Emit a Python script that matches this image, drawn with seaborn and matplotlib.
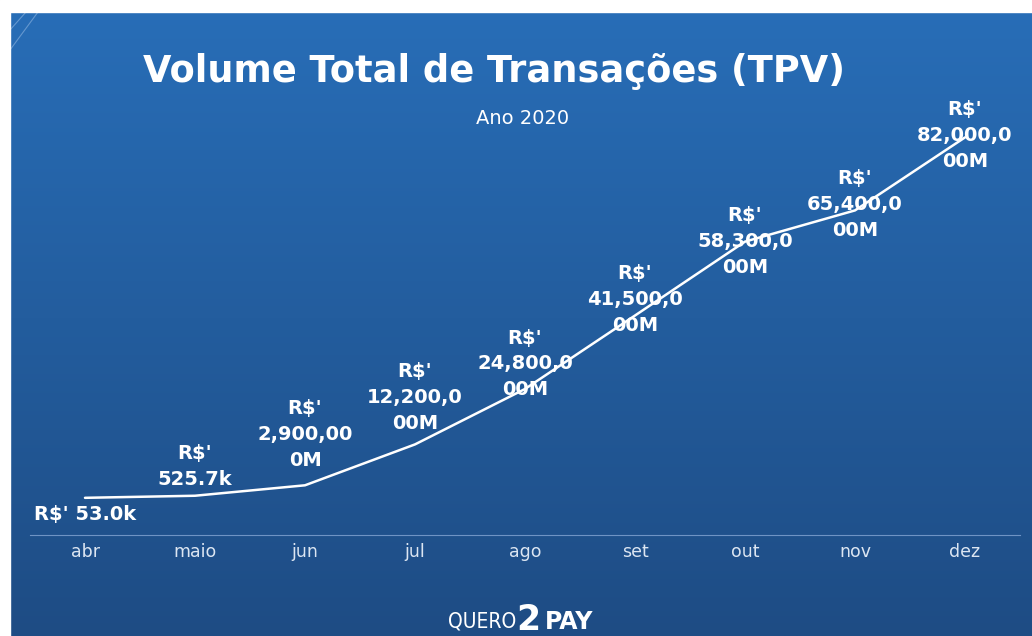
import numpy as np
import pandas as pd
import matplotlib.pyplot as plt
import seaborn as sns
from matplotlib.patches import Rectangle

months = ['abr', 'maio', 'jun', 'jul', 'ago', 'set', 'out', 'nov', 'dez']
tpv_millions = [0.053, 0.5257, 2.9, 12.2, 24.8, 41.5, 58.3, 65.4, 82.0]
point_labels = ["R$' 53.0k", "R$'\n525.7k", "R$'\n2,900,00\n0M", "R$'\n12,200,0\n00M",
                "R$'\n24,800,0\n00M", "R$'\n41,500,0\n00M", "R$'\n58,300,0\n00M",
                "R$'\n65,400,0\n00M", "R$'\n82,000,0\n00M"]

# vertical offset (pixels) of each label centre from its point
label_dy = [-17, 29, 51, 47, 25, 16, 0, 6, 2]

df = pd.DataFrame({'mes': months, 'tpv': tpv_millions})

sns.set_style('white')
plt.rcParams['font.family'] = ['DejaVu Sans']

W, H = 1032, 636
fig = plt.figure(figsize=(W / 100, H / 100), dpi=100)

# background gradient
bg = fig.add_axes([0, 0, 1, 1], zorder=-2)
grad = np.linspace(0, 1, 256).reshape(-1, 1)
top_c = np.array([40, 110, 184]) / 255
bot_c = np.array([30, 76, 132]) / 255
img = top_c * (1 - grad[..., None]) + bot_c * grad[..., None]
img = np.repeat(img, 2, axis=1)
bg.imshow(img, aspect='auto', extent=[0, 1, 0, 1])
bg.set_xlim(0, 1)
bg.set_ylim(0, 1)
bg.axis('off')
bg.add_patch(Rectangle((0, 1 - 12 / H), 1, 12 / H, color='white', zorder=3))
bg.add_patch(Rectangle((0, 0), 10 / W, 1, color='white', zorder=3))
bg.plot([10 / W, 38 / W], [1 - 50 / H, 1 - 12 / H], color='#8fb5e0', lw=0.8, alpha=0.6)
bg.plot([10 / W, 26 / W], [1 - 30 / H, 1 - 12 / H], color='#8fb5e0', lw=0.8, alpha=0.6)

ax = fig.add_axes([30 / W, (H - 535) / H, 990 / W, 435 / H])
ax.patch.set_alpha(0)
sns.lineplot(data=df, x='mes', y='tpv', sort=False, color='white', lw=1.8, ax=ax)
ax.set_xlim(-0.5, 8.5)
ax.set_ylim(-8.4, 90.5)

for i, (v, lab) in enumerate(zip(tpv_millions, point_labels)):
    ax.annotate(lab, (i, v), xytext=(0, label_dy[i]), textcoords='offset pixels',
                ha='center', va='center', color='white', fontsize=14, fontweight='heavy',
                linespacing=1.45, annotation_clip=False)

ax.set_xlabel('')
ax.set_ylabel('')
ax.set_yticks([])
ax.tick_params(axis='x', length=0, pad=6, labelsize=12.5, labelcolor='#dce6f2')
for s in ['top', 'left', 'right']:
    ax.spines[s].set_visible(False)
ax.spines['bottom'].set_color('#6f94c4')
ax.spines['bottom'].set_linewidth(0.8)

fig.text(494 / W, 1 - 72 / H, 'Volume Total de Transações (TPV)', ha='center', va='center',
         color='white', fontsize=26.5, fontweight='heavy')
fig.text(523 / W, 1 - 118 / H, 'Ano 2020', ha='center', va='center', color='white', fontsize=14)

# footer logo
fig.text(516 / W, 1 - 622 / H, 'QUERO', ha='right', va='center', color='white',
         fontsize=15, fontweight='light', fontstretch='condensed')
fig.text(516 / W, 1 - 620 / H, '2', ha='left', va='center', color='white',
         fontsize=25, fontweight='heavy')
fig.text(545 / W, 1 - 622 / H, 'PAY', ha='left', va='center', color='white',
         fontsize=17, fontweight='heavy')

fig.savefig('out.png', dpi=100)
